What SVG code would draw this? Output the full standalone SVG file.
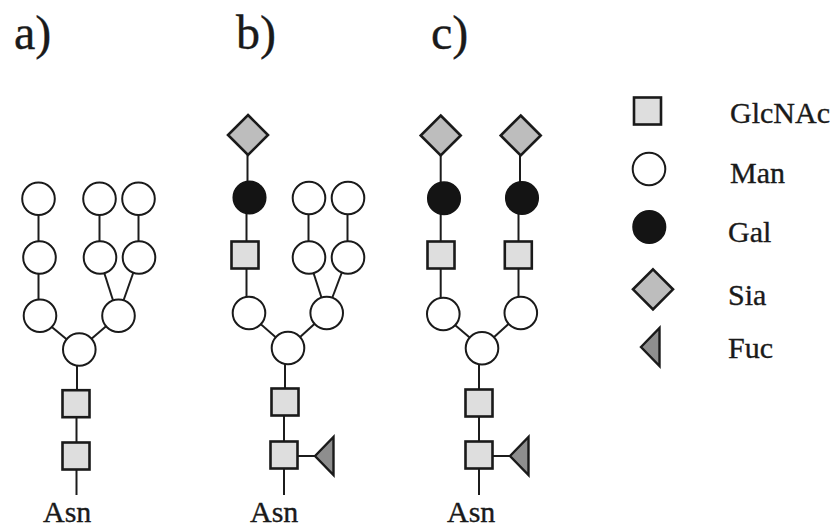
<svg xmlns="http://www.w3.org/2000/svg" xmlns:xlink="http://www.w3.org/1999/xlink" width="833" height="527" viewBox="0 0 833 527">
  <style>
    text { font-family: "Liberation Serif", "Times New Roman", serif; fill: #1a1a1a; stroke: #1a1a1a; stroke-width: 0.35; }
    .panel { font-size: 48px; }
    .lbl { font-size: 30px; }
    .bond { stroke: #1c1c1c; stroke-width: 2; fill: none; }
    .glcnac { fill: #dedede; stroke: #1a1a1a; stroke-width: 2.6; }
    .man { fill: #ffffff; stroke: #1a1a1a; stroke-width: 2; }
    .gal { fill: #141414; stroke: #141414; stroke-width: 1.5; }
    .sia { fill: #bdbdbd; stroke: #1a1a1a; stroke-width: 2.6; stroke-linejoin: miter; }
    .fuc { fill: #8e8e8e; stroke: #1a1a1a; stroke-width: 2.4; stroke-linejoin: miter; }
  </style>
  <defs>
    <rect id="sq" x="-13.5" y="-13.5" width="27" height="27"/>
    <circle id="ring" r="16.3"/>
    <polygon id="dia" points="0,-20 20,0 0,20 -20,0"/>
    <polygon id="tri" points="-9.5,0 9,-19 9,19"/>
  </defs>

  <!-- panel letters -->
  <text class="panel" x="14" y="49">a)</text>
  <text class="panel" x="236" y="49">b)</text>
  <text class="panel" x="431" y="49">c)</text>

  <!-- glycosidic bonds -->
  <g id="connectors" class="bond">
    <!-- a) high-mannose -->
    <line x1="38.5" y1="199" x2="38.5" y2="258"/>
    <line x1="38.5" y1="258" x2="38.5" y2="316"/>
    <line x1="99.5" y1="199" x2="99.5" y2="258"/>
    <line x1="138.5" y1="199" x2="138.5" y2="258"/>
    <line x1="99.5" y1="258" x2="118" y2="316"/>
    <line x1="138.5" y1="258" x2="118" y2="316"/>
    <line x1="38.5" y1="316" x2="79" y2="349.5"/>
    <line x1="118" y1="316" x2="79" y2="349.5"/>
    <line x1="77" y1="360" x2="77" y2="404"/>
    <line x1="76.5" y1="404" x2="76.5" y2="456"/>
    <line x1="76.5" y1="456" x2="76.5" y2="495"/>
    <!-- b) hybrid -->
    <line x1="247.5" y1="135" x2="247.5" y2="198"/>
    <line x1="246.5" y1="198" x2="246.5" y2="255"/>
    <line x1="246.5" y1="255" x2="246.5" y2="313"/>
    <line x1="308.5" y1="198" x2="308.5" y2="257.5"/>
    <line x1="347.5" y1="198" x2="347.5" y2="257.5"/>
    <line x1="308.5" y1="257.5" x2="326.5" y2="313"/>
    <line x1="347.5" y1="257.5" x2="326.5" y2="313"/>
    <line x1="248" y1="313" x2="288" y2="348"/>
    <line x1="326.5" y1="313" x2="288" y2="348"/>
    <line x1="285" y1="358" x2="285" y2="402"/>
    <line x1="284" y1="402" x2="284" y2="455"/>
    <line x1="284" y1="455" x2="284" y2="495"/>
    <line x1="294" y1="456" x2="315" y2="456"/>
    <!-- c) complex biantennary -->
    <line x1="440.7" y1="135.5" x2="440.7" y2="198"/>
    <line x1="440.7" y1="198" x2="440.7" y2="314"/>
    <line x1="520" y1="135.5" x2="520" y2="198"/>
    <line x1="518.5" y1="198" x2="518.5" y2="313"/>
    <line x1="442" y1="314" x2="482" y2="348"/>
    <line x1="520.5" y1="313" x2="482" y2="348"/>
    <line x1="479" y1="358" x2="479" y2="403"/>
    <line x1="479" y1="403" x2="479" y2="455"/>
    <line x1="479" y1="455" x2="479" y2="495"/>
    <line x1="489" y1="456" x2="510" y2="456"/>
  </g>

  <!-- a) -->
  <g id="glycan-a">
    <g id="a-man1"><use href="#ring" class="man" x="38.5" y="198.8"/></g>
    <g id="a-man2"><use href="#ring" class="man" x="99.5" y="198.8"/></g>
    <g id="a-man3"><use href="#ring" class="man" x="138.5" y="198.8"/></g>
    <g id="a-man4"><use href="#ring" class="man" x="39.5" y="257.5"/></g>
    <g id="a-man5"><use href="#ring" class="man" x="100" y="257.5"/></g>
    <g id="a-man6"><use href="#ring" class="man" x="139" y="257.5"/></g>
    <g id="a-man7"><use href="#ring" class="man" x="40" y="315.8"/></g>
    <g id="a-man8"><use href="#ring" class="man" x="118.5" y="315.8"/></g>
    <g id="a-man9"><use href="#ring" class="man" x="79.3" y="349.5"/></g>
    <g id="a-glcnac1"><use href="#sq" class="glcnac" x="76" y="403.7"/></g>
    <g id="a-glcnac2"><use href="#sq" class="glcnac" x="76" y="456"/></g>
    <g id="a-asn"><text class="lbl" x="43" y="522">Asn</text></g>
  </g>

  <!-- b) -->
  <g id="glycan-b">
    <g id="b-sia"><use href="#dia" class="sia" x="248" y="135"/></g>
    <g id="b-gal"><use href="#ring" class="gal" x="249.5" y="197.5"/></g>
    <g id="b-glcnac3"><use href="#sq" class="glcnac" x="245" y="255"/></g>
    <g id="b-man1"><use href="#ring" class="man" x="249" y="313"/></g>
    <g id="b-man2"><use href="#ring" class="man" x="309" y="198"/></g>
    <g id="b-man3"><use href="#ring" class="man" x="348" y="198"/></g>
    <g id="b-man4"><use href="#ring" class="man" x="309" y="257.5"/></g>
    <g id="b-man5"><use href="#ring" class="man" x="348" y="257.5"/></g>
    <g id="b-man6"><use href="#ring" class="man" x="326.7" y="313"/></g>
    <g id="b-man7"><use href="#ring" class="man" x="288" y="348"/></g>
    <g id="b-glcnac1"><use href="#sq" class="glcnac" x="285" y="402"/></g>
    <g id="b-glcnac2"><use href="#sq" class="glcnac" x="284" y="455"/></g>
    <g id="b-fuc"><use href="#tri" class="fuc" x="324.5" y="456"/></g>
    <g id="b-asn"><text class="lbl" x="250" y="522">Asn</text></g>
  </g>

  <!-- c) -->
  <g id="glycan-c">
    <g id="c-sia1"><use href="#dia" class="sia" x="440.7" y="135.5"/></g>
    <g id="c-sia2"><use href="#dia" class="sia" x="520.7" y="135.5"/></g>
    <g id="c-gal1"><use href="#ring" class="gal" x="444" y="198.3"/></g>
    <g id="c-gal2"><use href="#ring" class="gal" x="522" y="198"/></g>
    <g id="c-glcnac3"><use href="#sq" class="glcnac" x="441" y="255"/></g>
    <g id="c-glcnac4"><use href="#sq" class="glcnac" x="518.3" y="255"/></g>
    <g id="c-man1"><use href="#ring" class="man" x="443.3" y="314"/></g>
    <g id="c-man2"><use href="#ring" class="man" x="520.8" y="313"/></g>
    <g id="c-man3"><use href="#ring" class="man" x="482" y="348.3"/></g>
    <g id="c-glcnac1"><use href="#sq" class="glcnac" x="479" y="403"/></g>
    <g id="c-glcnac2"><use href="#sq" class="glcnac" x="479" y="455"/></g>
    <g id="c-fuc"><use href="#tri" class="fuc" x="519.5" y="456"/></g>
    <g id="c-asn"><text class="lbl" x="447" y="522">Asn</text></g>
  </g>

  <!-- legend -->
  <g id="legend">
    <g id="key-glcnac"><use href="#sq" class="glcnac" x="647.5" y="111"/><text class="lbl" x="730" y="123">GlcNAc</text></g>
    <g id="key-man"><use href="#ring" class="man" x="649" y="169"/><text class="lbl" x="730" y="183">Man</text></g>
    <g id="key-gal"><use href="#ring" class="gal" x="649.3" y="227"/><text class="lbl" x="728" y="241.5">Gal</text></g>
    <g id="key-sia"><use href="#dia" class="sia" x="653" y="289.3"/><text class="lbl" x="728" y="305">Sia</text></g>
    <g id="key-fuc"><use href="#tri" class="fuc" x="650.5" y="347"/><text class="lbl" x="728" y="358">Fuc</text></g>
  </g>
</svg>
